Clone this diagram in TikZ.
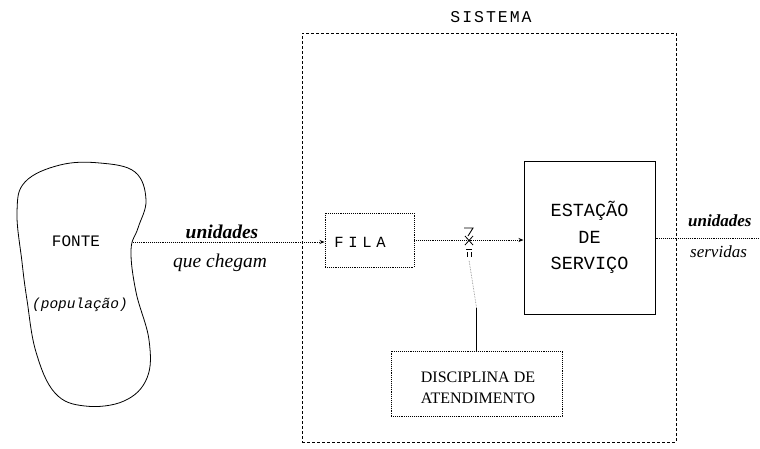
\documentclass[tikz,border=0pt]{standalone}
\usepackage{fontspec}
\setmainfont{Liberation Serif}
\newfontfamily\tmono{Liberation Mono}
\newfontfamily\tmonosp[LetterSpace=12]{Liberation Mono}
\newfontfamily\tmonowide[LetterSpace=30]{Liberation Mono}
\usetikzlibrary{arrows.meta}
\tikzset{
  sysbox/.style={draw, dashed, line width=0.7pt, dash pattern=on 3pt off 2pt},
  boxdot/.style={draw, densely dotted, line width=0.9pt, inner sep=0pt},
  boxsolid/.style={draw, line width=1pt, inner sep=0pt},
  flow/.style={densely dotted, line width=0.9pt, -{Stealth[length=5pt,width=4pt]}},
  flowplain/.style={densely dotted, line width=0.9pt},
  lbl/.style={inner sep=0pt, font=\fontsize{19.5}{21}\selectfont\itshape},
  lblb/.style={inner sep=0pt, font=\fontsize{19.5}{21}\selectfont\itshape\bfseries}
}
\begin{document}
\begin{tikzpicture}[x=1pt,y=-1pt]
\useasboundingbox (0,0) rectangle (760,448);
% source blob
\draw[line width=0.8pt] plot[smooth cycle, tension=0.65] coordinates {
 (60,165) (100,163) (135,172) (146,200) (138,228) (131,250) (136,292) (149,340)
 (147,378) (124,401) (85,406) (55,393) (36,352) (27,300) (22,262) (17,212) (25,182)};
\coordinate (fonteout) at (133,242);
\node[inner sep=0pt, font=\tmono\fontsize{16}{18}\selectfont] (fonte) at (76,241) {FONTE};
\node[inner sep=0pt, font=\tmono\itshape\fontsize{14.5}{16}\selectfont] (pop) at (80,305) {(população)};
% system
\node[inner sep=0pt, font=\tmonosp\fontsize{16.5}{18}\selectfont] (sistema) at (491,17) {SISTEMA};
\node[sysbox, minimum width=374pt, minimum height=409pt, inner sep=0pt] (sys) at (489,237.5) {};
% boxes
\node[boxdot, minimum width=89pt, minimum height=54pt] (fila) at (369.5,240) {};
\node[inner sep=0pt, font=\tmonowide\fontsize{15.5}{17}\selectfont] (filatext) at (360,242) {FILA};
\node[boxsolid, minimum width=131pt, minimum height=153pt, align=center,
      font=\tmono\fontsize{18.5}{26.5}\selectfont] (est) at (589.5,237.5) {ESTAÇÃO\\DE\\SERVIÇO};
\node[boxdot, minimum width=171pt, minimum height=65pt] (disc) at (476.5,383.5) {};
\node[inner sep=0pt, align=center, font=\fontsize{16}{21}\selectfont] (disctext) at (478,388) {DISCIPLINA DE\\ATENDIMENTO};
% switch mark
\coordinate (sw) at (469,240);
\coordinate (swlow) at (469,260);
\draw[line width=0.9pt] (464,228) -- (473,228) -- (468,236);
\draw[line width=0.8pt] (465,236) -- (473,245) (473,236) -- (465,245);
\draw[line width=0.8pt] (466,249) -- (472,249) (467,252) -- (467,257) (471,252) -- (471,257);
% connectors
\draw[flow] (fonteout) -- (fonteout -| fila.west);
\draw[flow] (fila.east) -- (fila.east -| est.west);
\draw[flowplain] (est.east |- 0,238) -- (760,238);
\draw[line width=1pt] (disc.north) -- ++(0,-43) coordinate (discup);
\draw[densely dotted, line width=0.6pt, gray] (discup) -- (swlow);
% labels
\node[lblb] (u1) at (222,232) {unidades};
\node[lbl] (q1) at (220,263) {que chegam};
\node[lblb, anchor=west, font=\fontsize{17}{19}\selectfont\itshape\bfseries] (u2) at (688,221) {unidades};
\node[lbl, anchor=west, font=\fontsize{17}{19}\selectfont\itshape] (s2) at (690,252) {servidas};
\end{tikzpicture}
\end{document}
